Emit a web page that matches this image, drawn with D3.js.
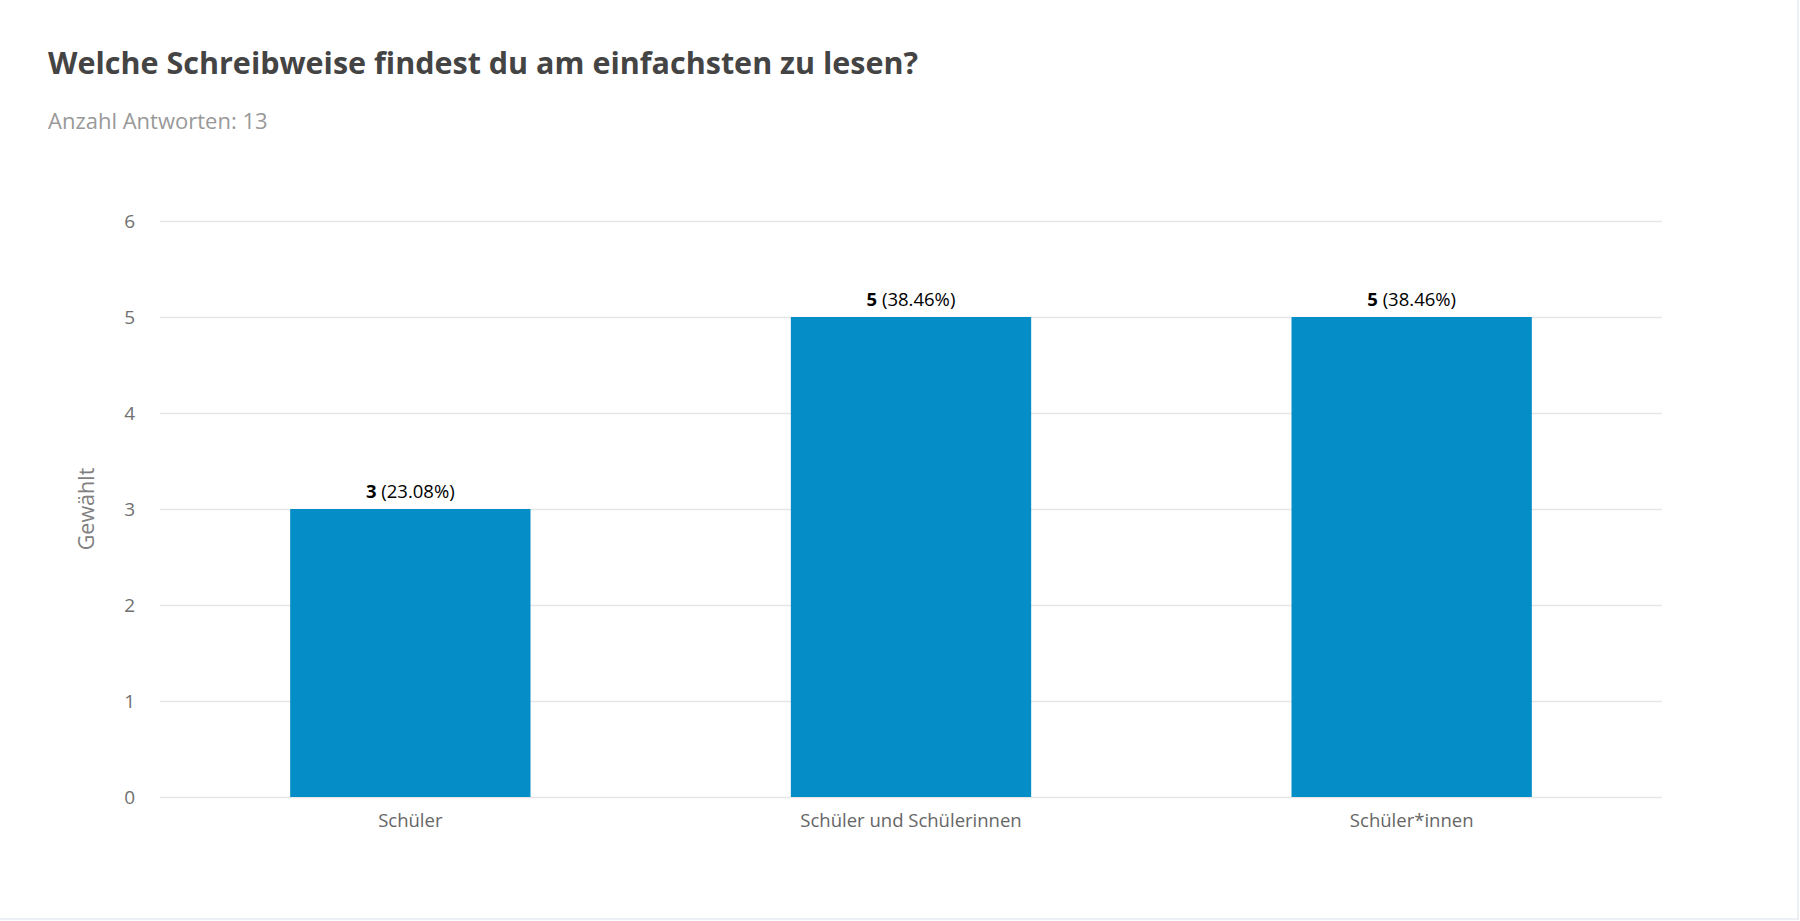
<!DOCTYPE html>
<html>
<head>
<meta charset="utf-8">
<script src="https://cdn.jsdelivr.net/npm/d3@7"></script>
<style>
  body { margin: 0; background: #fff; }
  svg { display: block; font-family: "Open Sans", sans-serif; }
</style>
</head>
<body>
<div id="chart"></div>
<script>
var categories = ["Schüler", "Schüler und Schülerinnen", "Schüler*innen"];
var counts = [3, 5, 5];
var percents = ["23.08%", "38.46%", "38.46%"];
var yTicks = [0, 1, 2, 3, 4, 5, 6];
var totalAnswers = 13;

var svgWidth = 1800;
var svgHeight = 921;

var margin = { top: 221, right: 138, bottom: 124, left: 160 };
var width = svgWidth - margin.left - margin.right;
var height = svgHeight - margin.top - margin.bottom;

var svg = d3.select("#chart")
  .append("svg")
  .attr("width", svgWidth)
  .attr("height", svgHeight);

// card edge, right and bottom only
svg.append("path")
  .attr("d", `M${svgWidth - 2},0 V${svgHeight - 2} H0`)
  .attr("fill", "none")
  .attr("stroke", "#eceff3")
  .attr("stroke-width", 2);

// title + subtitle
svg.append("text")
  .attr("x", 48).attr("y", 74)
  .attr("font-size", 30.5).attr("font-weight", "bold")
  .attr("fill", "#444")
  .text("Welche Schreibweise findest du am einfachsten zu lesen?");

svg.append("text")
  .attr("x", 48).attr("y", 129)
  .attr("font-size", 22)
  .attr("fill", "#999")
  .text("Anzahl Antworten: " + totalAnswers);

var chartGroup = svg.append("g")
  .attr("transform", `translate(${margin.left}, ${margin.top})`);

var xScale = d3.scaleBand()
  .domain(categories)
  .range([0, width])
  .paddingInner(0.52)
  .paddingOuter(0.26);

var yScale = d3.scaleLinear()
  .domain([0, 6])
  .range([height, 0]);

// gridlines
chartGroup.append("g")
  .selectAll("line")
  .data(yTicks)
  .enter()
  .append("line")
  .attr("x1", 0).attr("x2", width)
  .attr("y1", d => Math.round(yScale(d)) + 0.5)
  .attr("y2", d => Math.round(yScale(d)) + 0.5)
  .attr("stroke", "#e6e6e6")
  .attr("stroke-width", 1.5);

// y axis labels
var leftAxis = d3.axisLeft(yScale).tickValues(yTicks).tickFormat(d3.format("d")).tickSize(0).tickPadding(25);
var yAxisG = chartGroup.append("g").call(leftAxis);
yAxisG.select(".domain").remove();
yAxisG.selectAll("text")
  .attr("font-family", "Open Sans, sans-serif")
  .attr("font-size", 19)
  .attr("fill", "#707070");

// x axis labels
var bottomAxis = d3.axisBottom(xScale).tickSize(0).tickPadding(17);
var xAxisG = chartGroup.append("g")
  .attr("transform", `translate(0, ${height})`)
  .call(bottomAxis);
xAxisG.select(".domain").remove();
xAxisG.selectAll("text")
  .attr("font-family", "Open Sans, sans-serif")
  .attr("font-size", 18.5)
  .attr("fill", "#666");

// bars
chartGroup.selectAll("rect.bar")
  .data(categories)
  .enter()
  .append("rect")
  .attr("class", "bar")
  .attr("x", d => xScale(d))
  .attr("y", (d, i) => yScale(counts[i]))
  .attr("width", xScale.bandwidth())
  .attr("height", (d, i) => height - yScale(counts[i]))
  .attr("fill", "#058dc7");

// value labels
var labels = chartGroup.selectAll("text.val")
  .data(categories)
  .enter()
  .append("text")
  .attr("class", "val")
  .attr("x", d => xScale(d) + xScale.bandwidth() / 2)
  .attr("y", (d, i) => yScale(counts[i]) - 11)
  .attr("text-anchor", "middle")
  .attr("font-size", 18.5)
  .attr("fill", "#000");
labels.append("tspan").attr("font-weight", "bold").text((d, i) => counts[i]);
labels.append("tspan").text((d, i) => " (" + percents[i] + ")");

// y axis title
svg.append("text")
  .attr("transform", "translate(86, 509) rotate(-90)")
  .attr("text-anchor", "middle")
  .attr("dy", "0.35em")
  .attr("font-size", 21.5)
  .attr("fill", "#808080")
  .text("Gewählt");
</script>
</body>
</html>
